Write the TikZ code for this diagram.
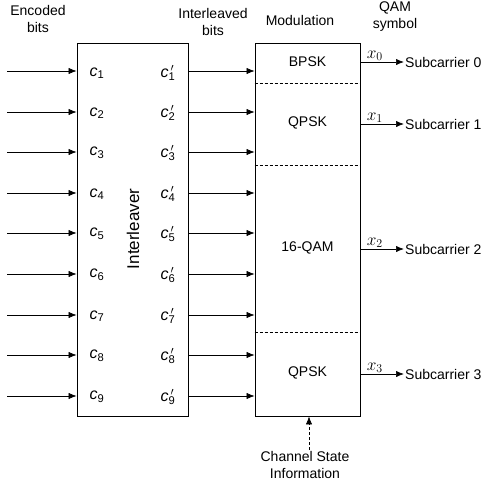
\documentclass[tikz,border=0pt]{standalone}
\usepackage{fontspec}
\setmainfont{Liberation Sans}
\usetikzlibrary{arrows.meta}

\begin{document}
\begin{tikzpicture}[x=1pt,y=-1pt]
\tikzset{
  blockbox/.style={draw=black,line width=0.8pt,inner sep=0pt},
  plaintext/.style={inner sep=1pt,align=center,font=\fontsize{14}{17}\selectfont},
  bitlabel/.style={inner sep=1pt,font=\fontsize{16}{18}\selectfont\itshape},
  symlabel/.style={above,pos=0.33,inner sep=1pt,font=\fontsize{17}{19}\selectfont},
  flow/.style={draw=black,line width=0.7pt,-{Latex[length=2.8mm,width=2.2mm]}},
  sectionline/.style={draw=black,line width=0.6pt,densely dashed}
}
\useasboundingbox (0,0) rectangle (488,482);
% blocks
\node[blockbox,minimum width=111pt,minimum height=373pt] (n_il) at (132.5,229.5) {};
\node[blockbox,minimum width=105pt,minimum height=373pt] (n_mod) at (307.5,229.5) {};
\node[plaintext,rotate=90,font=\fontsize{17}{19}\selectfont] (n_iltext) at (133,229) {Interleaver};
% headings
\node[plaintext] (n_enc) at (38,19) {Encoded\\bits};
\node[plaintext] (n_ilbits) at (213,22) {Interleaved\\bits};
\node[plaintext] (n_modhead) at (300,20) {Modulation};
\node[plaintext] (n_qam) at (395,17) {QAM\\symbol};
% input bits
\node[bitlabel] (n_c1) at (97,73) {c\textsubscript{\upshape 1}};
\node[bitlabel] (n_c2) at (97,113) {c\textsubscript{\upshape 2}};
\node[bitlabel] (n_c3) at (97,153) {c\textsubscript{\upshape 3}};
\node[bitlabel] (n_c4) at (97,194) {c\textsubscript{\upshape 4}};
\node[bitlabel] (n_c5) at (97,234) {c\textsubscript{\upshape 5}};
\node[bitlabel] (n_c6) at (97,275) {c\textsubscript{\upshape 6}};
\node[bitlabel] (n_c7) at (97,316) {c\textsubscript{\upshape 7}};
\node[bitlabel] (n_c8) at (97,356) {c\textsubscript{\upshape 8}};
\node[bitlabel] (n_c9) at (97,397) {c\textsubscript{\upshape 9}};
% interleaved bits
\node[bitlabel] (n_cp1) at (168,73) {c\rlap{\textsuperscript{\,$\prime$}}\textsubscript{\upshape 1}};
\node[bitlabel] (n_cp2) at (168,113) {c\rlap{\textsuperscript{\,$\prime$}}\textsubscript{\upshape 2}};
\node[bitlabel] (n_cp3) at (168,153) {c\rlap{\textsuperscript{\,$\prime$}}\textsubscript{\upshape 3}};
\node[bitlabel] (n_cp4) at (168,194) {c\rlap{\textsuperscript{\,$\prime$}}\textsubscript{\upshape 4}};
\node[bitlabel] (n_cp5) at (168,234) {c\rlap{\textsuperscript{\,$\prime$}}\textsubscript{\upshape 5}};
\node[bitlabel] (n_cp6) at (168,275) {c\rlap{\textsuperscript{\,$\prime$}}\textsubscript{\upshape 6}};
\node[bitlabel] (n_cp7) at (168,316) {c\rlap{\textsuperscript{\,$\prime$}}\textsubscript{\upshape 7}};
\node[bitlabel] (n_cp8) at (168,356) {c\rlap{\textsuperscript{\,$\prime$}}\textsubscript{\upshape 8}};
\node[bitlabel] (n_cp9) at (168,397) {c\rlap{\textsuperscript{\,$\prime$}}\textsubscript{\upshape 9}};
% free ends of input arrows
\coordinate (n_in1) at (7,71);
\coordinate (n_in2) at (7,112);
\coordinate (n_in3) at (7,152);
\coordinate (n_in4) at (7,193);
\coordinate (n_in5) at (7,233);
\coordinate (n_in6) at (7,274);
\coordinate (n_in7) at (7,315);
\coordinate (n_in8) at (7,355);
\coordinate (n_in9) at (7,396);
\draw[flow] (n_in1) -- (n_in1 -| n_il.west);
\draw[flow] (n_in2) -- (n_in2 -| n_il.west);
\draw[flow] (n_in3) -- (n_in3 -| n_il.west);
\draw[flow] (n_in4) -- (n_in4 -| n_il.west);
\draw[flow] (n_in5) -- (n_in5 -| n_il.west);
\draw[flow] (n_in6) -- (n_in6 -| n_il.west);
\draw[flow] (n_in7) -- (n_in7 -| n_il.west);
\draw[flow] (n_in8) -- (n_in8 -| n_il.west);
\draw[flow] (n_in9) -- (n_in9 -| n_il.west);
\draw[flow] (n_in1 -| n_il.east) -- (n_in1 -| n_mod.west);
\draw[flow] (n_in2 -| n_il.east) -- (n_in2 -| n_mod.west);
\draw[flow] (n_in3 -| n_il.east) -- (n_in3 -| n_mod.west);
\draw[flow] (n_in4 -| n_il.east) -- (n_in4 -| n_mod.west);
\draw[flow] (n_in5 -| n_il.east) -- (n_in5 -| n_mod.west);
\draw[flow] (n_in6 -| n_il.east) -- (n_in6 -| n_mod.west);
\draw[flow] (n_in7 -| n_il.east) -- (n_in7 -| n_mod.west);
\draw[flow] (n_in8 -| n_il.east) -- (n_in8 -| n_mod.west);
\draw[flow] (n_in9 -| n_il.east) -- (n_in9 -| n_mod.west);
% modulation sections
\coordinate (n_cut1) at (0,83);
\coordinate (n_cut2) at (0,165);
\coordinate (n_cut3) at (0,332);
\draw[sectionline] (n_cut1 -| n_mod.west) -- (n_cut1 -| n_mod.east);
\draw[sectionline] (n_cut2 -| n_mod.west) -- (n_cut2 -| n_mod.east);
\draw[sectionline] (n_cut3 -| n_mod.west) -- (n_cut3 -| n_mod.east);
\node[plaintext] (n_bpsk) at (307.5,62) {BPSK};
\node[plaintext] (n_qpskA) at (307.5,123) {QPSK};
\node[plaintext] (n_qam16) at (307.5,248) {16-QAM};
\node[plaintext] (n_qpskB) at (307.5,373) {QPSK};
% subcarriers
\node[plaintext,anchor=west] (n_sc0) at (404,62) {Subcarrier 0};
\node[plaintext,anchor=west] (n_sc1) at (404,124) {Subcarrier 1};
\node[plaintext,anchor=west] (n_sc2) at (404,249) {Subcarrier 2};
\node[plaintext,anchor=west] (n_sc3) at (404,374) {Subcarrier 3};
\draw[flow] (n_sc0.west -| n_mod.east) -- node[symlabel] {$x_0$} (n_sc0.west);
\draw[flow] (n_sc1.west -| n_mod.east) -- node[symlabel] {$x_1$} (n_sc1.west);
\draw[flow] (n_sc2.west -| n_mod.east) -- node[symlabel] {$x_2$} (n_sc2.west);
\draw[flow] (n_sc3.west -| n_mod.east) -- node[symlabel] {$x_3$} (n_sc3.west);
% channel state
\node[plaintext] (n_csi) at (305,465) {Channel State\\Information};
\draw[flow,densely dashed] (n_csi.north -| 309,0) -- (n_mod.south -| 309,0);
\end{tikzpicture}
\end{document}
